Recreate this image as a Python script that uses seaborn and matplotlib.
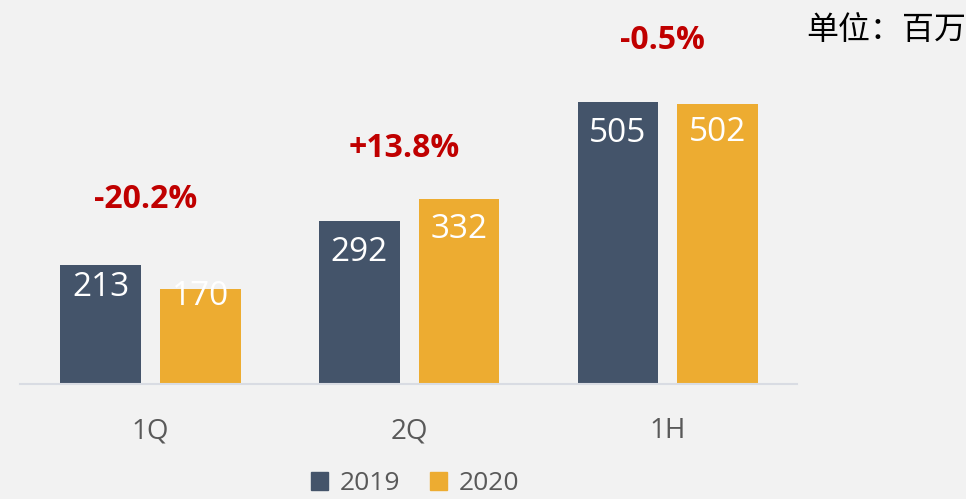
import pandas as pd
import matplotlib.pyplot as plt
import seaborn as sns

periods = ["1Q", "2Q", "1H"]
years = ["2019", "2020"]
values_2019 = [213, 292, 505]
values_2020 = [170, 332, 502]
changes = ["-20.2%", "+13.8%", "-0.5%"]

colors = {"2019": "#44546A", "2020": "#EDAC31"}
bg = "#F2F2F2"

df = pd.DataFrame({
    "period": periods * 2,
    "year": [years[0]] * 3 + [years[1]] * 3,
    "value": values_2019 + values_2020,
})

sns.set_theme(style="white")
plt.rcParams["font.family"] = ["Open Sans", "Noto Sans CJK SC", "DejaVu Sans"]

fig = plt.figure(figsize=(9.66, 4.99), dpi=100, facecolor=bg)
ax = fig.add_axes([20 / 966, 1 - 384 / 499, 777 / 966, 374 / 499])
ax.set_facecolor(bg)

sns.barplot(data=df, x="period", y="value", hue="year", order=periods,
            hue_order=years, palette=colors, width=0.77, gap=0.19,
            saturation=1, linewidth=0, ax=ax, legend=False)

ax.set_xlim(-0.505, 2.5)
ax.set_ylim(0, 670)

# value labels inside the bars (pixel drop from bar top)
label_drop = [[22, 31, 31], [7, 31, 29]]
for i, cont in enumerate(ax.containers):
    for j, bar in enumerate(cont):
        x = bar.get_x() + bar.get_width() / 2
        ax.annotate(str(int(bar.get_height())), (x, bar.get_height()),
                    xytext=(0, -label_drop[i][j]), textcoords="offset pixels",
                    ha="center", va="center", color="white", fontsize=24)

# growth labels above each group
change_rise = [66, 50, 62]
for k, txt in enumerate(changes):
    top = max(values_2019[k], values_2020[k])
    ax.annotate(txt, (k - 0.02, top), xytext=(0, change_rise[k]),
                textcoords="offset pixels", ha="center", va="center",
                color="#C00000", fontsize=23, fontweight="bold")

for s in ["top", "right", "left"]:
    ax.spines[s].set_visible(False)
ax.spines["bottom"].set_color("#D9DCE3")
ax.spines["bottom"].set_linewidth(1.5)
ax.set_yticks([])
ax.set_xlabel("")
ax.set_ylabel("")
ax.tick_params(axis="x", length=0, pad=24, labelsize=20, labelcolor="#595959")

handles = [plt.Rectangle((0, 0), 1, 1, color=colors[y]) for y in years]
fig.legend(handles, years, loc="center", bbox_to_anchor=(415 / 966, 1 - 484 / 499),
           ncol=2, frameon=False, fontsize=19, labelcolor="#595959",
           handlelength=0.65, handleheight=0.65, handletextpad=0.45, columnspacing=1.1)

fig.text(886 / 966, 1 - 30 / 499, "单位：百万", ha="center", va="center",
         fontsize=23, color="black", family=["Noto Sans CJK SC", "DejaVu Sans"])

fig.savefig("out.png", dpi=100, facecolor=bg)
